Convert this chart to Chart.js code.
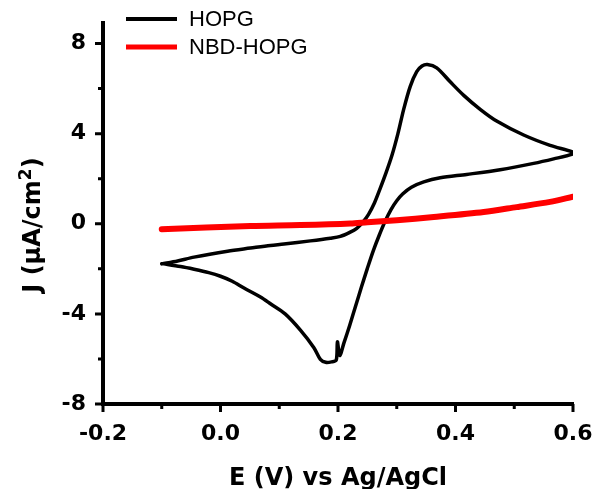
<!DOCTYPE html>
<html>
<head>
<meta charset="utf-8">
<script src="https://cdn.jsdelivr.net/npm/chart.js@4.4.0/dist/chart.umd.min.js"></script>
<style>
  html, body { margin: 0; padding: 0; background: #fff; }
</style>
</head>
<body>
<canvas id="cv" width="593" height="489"></canvas>
<script>
var seriesNames = ["HOPG", "NBD-HOPG"];
var seriesColors = ["#000000", "#ff0000"];

// HOPG cyclic voltammogram: forward scan -0.1 -> 0.6, then back to -0.1
var hopgE = [-0.100, -0.073, -0.045, 0.012, 0.051, 0.085, 0.108, 0.153, 0.187, 0.204,
  0.220, 0.232, 0.242, 0.252, 0.262, 0.272, 0.282, 0.292, 0.302, 0.312,
  0.323, 0.334, 0.343, 0.352, 0.368, 0.391, 0.414, 0.442, 0.470, 0.516,
  0.561, 0.600,
  0.600, 0.567, 0.533, 0.476, 0.419, 0.374, 0.346, 0.325, 0.310, 0.300,
  0.290, 0.280, 0.270, 0.260, 0.250, 0.240, 0.230, 0.220, 0.210, 0.203,
  0.199, 0.197, 0.189, 0.179, 0.170, 0.159, 0.136, 0.110, 0.085, 0.068,
  0.040, 0.020, 0.000, -0.020, -0.045, -0.068, -0.100];
var hopgJ = [-1.78, -1.65, -1.48, -1.22, -1.08, -0.96, -0.90, -0.76, -0.64, -0.56,
  -0.38, -0.20, 0.06, 0.42, 0.92, 1.58, 2.28, 3.05, 4.00, 5.10,
  6.10, 6.75, 7.00, 7.07, 6.92, 6.30, 5.70, 5.08, 4.56, 3.94,
  3.48, 3.18,
  3.10, 2.88, 2.68, 2.40, 2.19, 2.04, 1.86, 1.62, 1.32, 1.02,
  0.62, 0.10, -0.52, -1.20, -1.98, -2.80, -3.65, -4.50, -5.30, -5.85,
  -5.24, -6.05, -6.13, -6.15, -6.02, -5.50, -4.72, -4.00, -3.55, -3.25,
  -2.85, -2.55, -2.33, -2.17, -2.02, -1.90, -1.77];

var nbdE = [-0.100, 0.051, 0.136, 0.221, 0.250, 0.300, 0.363, 0.448, 0.504, 0.561, 0.600];
var nbdJ = [-0.24, -0.10, -0.06, 0.01, 0.07, 0.16, 0.30, 0.52, 0.74, 0.97, 1.20];

var xTicks = [-0.2, 0.0, 0.2, 0.4, 0.6];
var xMinor = [-0.1, 0.1, 0.3, 0.5];
var yTicks = [-8, -4, 0, 4, 8];
var yMinor = [-6, -2, 2, 6];
var xTitle = "E (V) vs Ag/AgCl";
var yTitle = ["J (\u03bcA/cm", "2", ")"];

function pts(xs, ys) {
  return xs.map(function (x, i) { return { x: x, y: ys[i] }; });
}

var framePlugin = {
  id: "frame",
  afterDraw: function (chart) {
    var ctx = chart.ctx;
    var a = chart.chartArea;
    var sx = chart.scales.x, sy = chart.scales.y;
    ctx.save();
    ctx.strokeStyle = "#000";
    ctx.fillStyle = "#000";

    // axis lines
    ctx.lineWidth = 4;
    ctx.beginPath();
    ctx.moveTo(a.left, a.top);
    ctx.lineTo(a.left, a.bottom + 2);
    ctx.moveTo(a.left - 2, a.bottom);
    ctx.lineTo(a.right + 1, a.bottom);
    ctx.stroke();

    // ticks
    ctx.lineWidth = 3;
    ctx.beginPath();
    xTicks.forEach(function (v) {
      var p = sx.getPixelForValue(v);
      ctx.moveTo(p, a.bottom); ctx.lineTo(p, a.bottom + 8);
    });
    xMinor.forEach(function (v) {
      var p = sx.getPixelForValue(v);
      ctx.moveTo(p, a.bottom); ctx.lineTo(p, a.bottom + 5);
    });
    yTicks.forEach(function (v) {
      var p = sy.getPixelForValue(v);
      ctx.moveTo(a.left, p); ctx.lineTo(a.left - 8, p);
    });
    yMinor.forEach(function (v) {
      var p = sy.getPixelForValue(v);
      ctx.moveTo(a.left, p); ctx.lineTo(a.left - 5, p);
    });
    ctx.stroke();

    // x title
    ctx.font = "bold 24px 'DejaVu Sans'";
    ctx.textAlign = "center";
    ctx.textBaseline = "alphabetic";
    ctx.fillText(xTitle, (a.left + a.right) / 2, 485);

    // y title with superscript
    var f1 = "bold 24px 'DejaVu Sans'", f2 = "bold 17px 'DejaVu Sans'";
    ctx.font = f1;
    var w0 = ctx.measureText(yTitle[0]).width;
    var w2 = ctx.measureText(yTitle[2]).width;
    ctx.font = f2;
    var w1 = ctx.measureText(yTitle[1]).width;
    var total = w0 + w1 + w2;
    ctx.translate(40, 225);
    ctx.rotate(-Math.PI / 2);
    ctx.textAlign = "left";
    var x0 = -total / 2;
    ctx.font = f1;
    ctx.fillText(yTitle[0], x0, 0);
    ctx.font = f2;
    ctx.fillText(yTitle[1], x0 + w0, -9);
    ctx.font = f1;
    ctx.fillText(yTitle[2], x0 + w0 + w1, 0);
    ctx.setTransform(1, 0, 0, 1, 0, 0);

    // legend
    ctx.font = "22px 'Liberation Sans'";
    ctx.textBaseline = "middle";
    ctx.textAlign = "left";
    var rows = [19, 47];
    chart.data.datasets.forEach(function (ds) {
      var k = ds.legendIndex;
      var y = rows[k];
      ctx.strokeStyle = ds.borderColor;
      ctx.lineWidth = k === 0 ? 4 : 5;
      ctx.beginPath();
      ctx.moveTo(126, y); ctx.lineTo(177, y);
      ctx.stroke();
      ctx.fillStyle = "#000";
      ctx.fillText(ds.label, 189, y + 1);
    });
    ctx.restore();
  }
};

var tickFont = { family: "DejaVu Sans", weight: "bold", size: 22 };

new Chart(document.getElementById("cv"), {
  type: "scatter",
  data: {
    datasets: [
      {
        label: seriesNames[1],
        legendIndex: 1,
        data: pts(nbdE, nbdJ),
        showLine: true,
        borderColor: seriesColors[1],
        borderWidth: 6,
        pointRadius: 0,
        tension: 0.3,
        borderCapStyle: "round",
        order: 0
      },
      {
        label: seriesNames[0],
        legendIndex: 0,
        data: pts(hopgE, hopgJ),
        showLine: true,
        borderColor: seriesColors[0],
        borderWidth: 3.5,
        pointRadius: 0,
        tension: 0.3,
        borderJoinStyle: "round",
        borderCapStyle: "round",
        order: 1
      }
    ]
  },
  options: {
    responsive: false,
    animation: false,
    layout: { padding: { top: 21, right: 20, left: 0, bottom: 0 } },
    plugins: { legend: { display: false }, tooltip: { enabled: false } },
    scales: {
      x: {
        type: "linear",
        min: -0.2,
        max: 0.6,
        grid: { display: false, drawTicks: false },
        border: { display: false },
        afterBuildTicks: function (s) { s.ticks = xTicks.map(function (v) { return { value: v }; }); },
        afterFit: function (s) { s.height = 85; s.paddingLeft = 0; s.paddingRight = 0; },
        ticks: {
          font: tickFont,
          color: "#000",
          padding: 17,
          maxRotation: 0,
          callback: function (v) { return v.toFixed(1); }
        }
      },
      y: {
        type: "linear",
        min: -8,
        max: 9,
        grid: { display: false, drawTicks: false },
        border: { display: false },
        afterBuildTicks: function (s) { s.ticks = yTicks.map(function (v) { return { value: v }; }); },
        afterFit: function (s) { s.width = 103; s.paddingTop = 0; s.paddingBottom = 0; },
        ticks: {
          font: tickFont,
          color: "#000",
          padding: 17,
          callback: function (v) { return String(v); }
        }
      }
    }
  },
  plugins: [framePlugin]
});
</script>
</body>
</html>
